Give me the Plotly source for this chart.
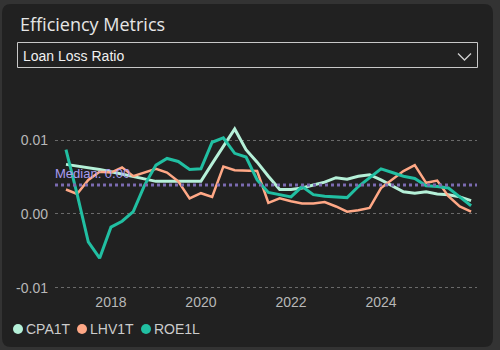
import numpy as np
import pandas as pd
import plotly.graph_objects as go

# ---- data ----
dates = pd.date_range("2017-01-01", periods=37, freq="QS")
series_names = ["CPA1T", "LHV1T", "ROE1L"]
cpa1t = [0.0067, 0.0065, 0.0062, 0.0060, 0.0057, 0.0054, 0.0051, 0.0047, 0.0044, 0.0044,
         0.0044, 0.0044, 0.0044, 0.0068, 0.0092, 0.0115, 0.0087, 0.0070, 0.0051, 0.0033,
         0.0033, 0.0035, 0.0039, 0.0043, 0.0049, 0.0047, 0.0051, 0.0053, 0.0046, 0.0038,
         0.0030, 0.0028, 0.0030, 0.0027, 0.0026, 0.0023, 0.0018]
lhv1t = [0.0033, 0.0027, 0.0046, 0.0057, 0.0056, 0.0063, 0.0051, 0.0056, 0.0061, 0.0056,
         0.0044, 0.0021, 0.0028, 0.0023, 0.0064, 0.0059, 0.0059, 0.0058, 0.0015, 0.0021,
         0.0017, 0.0014, 0.0014, 0.0016, 0.0010, 0.0003, 0.0005, 0.0008, 0.0035, 0.0047,
         0.0058, 0.0066, 0.0042, 0.0045, 0.0024, 0.0010, 0.0003]
roe1l = [0.0087, 0.0027, -0.0038, -0.0060, -0.0018, -0.0010, 0.0003, 0.0039, 0.0066, 0.0075,
         0.0071, 0.0060, 0.0061, 0.0097, 0.0103, 0.0082, 0.0077, 0.0046, 0.0029, 0.0026,
         0.0023, 0.0037, 0.0026, 0.0024, 0.0023, 0.0022, 0.0037, 0.0049, 0.0061, 0.0056,
         0.0051, 0.0048, 0.0038, 0.0037, 0.0035, 0.0023, 0.0011]
series_values = [cpa1t, lhv1t, roe1l]
series_colors = ["#b5f0d8", "#ffa886", "#21bfa2"]
line_widths = [3, 2.5, 3]
x_tickvals = ["2018-01-01", "2020-01-01", "2022-01-01", "2024-01-01"]
x_ticktext = ["2018", "2020", "2022", "2024"]
y_tickvals = [-0.01, 0.0, 0.01]
y_ticktext = ["-0.01", "0.00", "0.01"]
title_text = "Efficiency Metrics"
dropdown_text = "Loan Loss Ratio"
median_value = 0.0039  # median reference line shown in chart

W, H = 500, 350
def px(xp):
    return xp / W
def py(yp):
    return 1 - yp / H

fig = go.Figure()
for name, vals, col, lw in zip(series_names, series_values, series_colors, line_widths):
    fig.add_trace(go.Scatter(x=dates, y=vals, mode="lines", name=name,
                             line=dict(color=col, width=lw), showlegend=False,
                             hoverinfo="x+y+name"))

title_font = "Open Sans, Noto Sans, sans-serif"
font_family = "Liberation Sans, Arial, sans-serif"
shapes = []
annotations = []

# card background with rounded corners
x0, y0, x1, y1, r = 2, 4, 493, 347, 9
path = (f"M {px(x0+r)},{py(y0)} L {px(x1-r)},{py(y0)} Q {px(x1)},{py(y0)} {px(x1)},{py(y0+r)} "
        f"L {px(x1)},{py(y1-r)} Q {px(x1)},{py(y1)} {px(x1-r)},{py(y1)} "
        f"L {px(x0+r)},{py(y1)} Q {px(x0)},{py(y1)} {px(x0)},{py(y1-r)} "
        f"L {px(x0)},{py(y0+r)} Q {px(x0)},{py(y0)} {px(x0+r)},{py(y0)} Z")
shapes.append(dict(type="path", path=path, xref="paper", yref="paper",
                   fillcolor="#212121", line=dict(width=0), layer="below"))

# dropdown box
shapes.append(dict(type="rect", xref="paper", yref="paper",
                   x0=px(17.5), x1=px(477.5), y0=py(67.5), y1=py(42.5),
                   line=dict(color="#c8c8c8", width=1), fillcolor="rgba(0,0,0,0)"))
shapes.append(dict(type="path", xref="paper", yref="paper",
                   path=f"M {px(458)},{py(53.5)} L {px(464.5)},{py(60)} L {px(471)},{py(53.5)}",
                   line=dict(color="#d0d0d0", width=1.3)))

# median line
shapes.append(dict(type="line", xref="x domain", yref="y", x0=0, x1=1,
                   y0=median_value, y1=median_value,
                   line=dict(color="#7b6bb0", width=3, dash="dot")))
annotations.append(dict(xref="x domain", yref="y", x=0, y=median_value, xanchor="left",
                        yanchor="bottom", yshift=2, xshift=-2, showarrow=False,
                        text=f"Median: {median_value:.2f}",
                        font=dict(color="#a99cf0", size=13, family=font_family)))

# title + dropdown text
annotations.append(dict(xref="paper", yref="paper", x=px(18), y=py(24), xanchor="left",
                        yanchor="middle", showarrow=False, text=title_text,
                        font=dict(color="#e6e6e6", size=18, family=title_font)))
annotations.append(dict(xref="paper", yref="paper", x=px(21), y=py(55.5), xanchor="left",
                        yanchor="middle", showarrow=False, text=dropdown_text,
                        font=dict(color="#f0f0f0", size=14, family=font_family)))

# manual legend
leg_x = [18, 82, 146]
for name, col, lx in zip(series_names, series_colors, leg_x):
    shapes.append(dict(type="circle", xref="paper", yref="paper",
                       x0=px(lx-5), x1=px(lx+5), y0=py(334), y1=py(324),
                       fillcolor=col, line=dict(width=0)))
    annotations.append(dict(xref="paper", yref="paper", x=px(lx+6), y=py(329),
                            xanchor="left", yanchor="middle", showarrow=False, text=name,
                            font=dict(color="#cccccc", size=14, family=font_family)))

fig.update_layout(
    width=W, height=H,
    margin=dict(l=0, r=0, t=0, b=0),
    paper_bgcolor="#333333",
    plot_bgcolor="rgba(0,0,0,0)",
    showlegend=False,
    shapes=shapes,
    annotations=annotations,
    font=dict(family=font_family, color="#bbbbbb", size=14),
    xaxis=dict(domain=[px(55), px(477)], range=["2016-10-04", "2026-02-18"],
               type="date", tickvals=x_tickvals, ticktext=x_ticktext,
               showgrid=False, zeroline=False, showline=False, ticks="",
               ticklabelstandoff=2,
               tickfont=dict(color="#b8b8b8", size=14), automargin=False),
    yaxis=dict(domain=[py(290), py(85)], range=[-0.01031, 0.01745],
               tickvals=y_tickvals, ticktext=y_ticktext,
               showgrid=True, gridcolor="#6a6a6a", griddash="dot", gridwidth=1,
               zeroline=False, showline=False, ticks="", ticklabelstandoff=6,
               tickfont=dict(color="#b8b8b8", size=14), automargin=False),
)

fig.write_html("out.html")
